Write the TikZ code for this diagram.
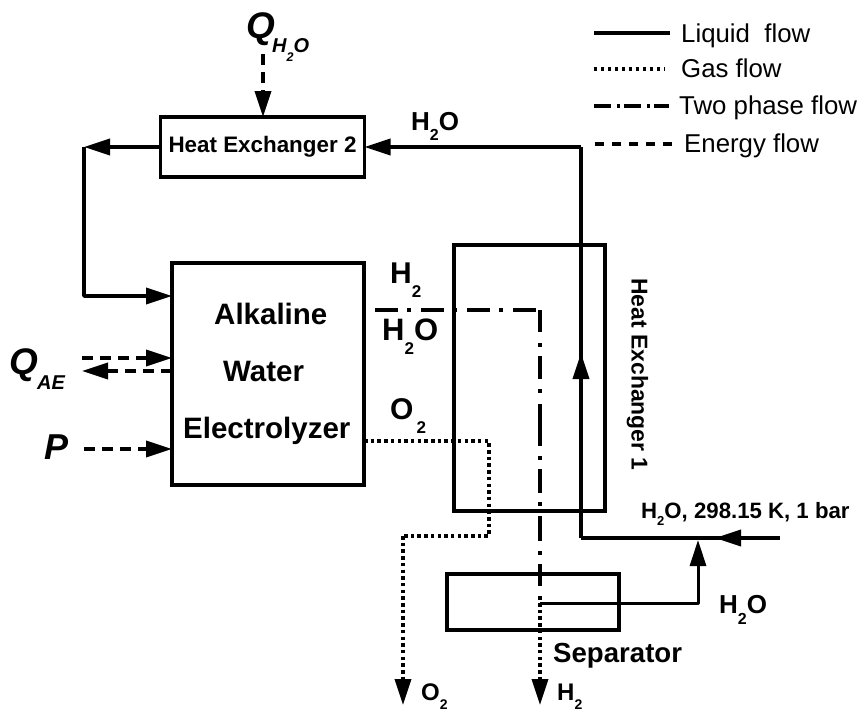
\documentclass[tikz,border=0pt]{standalone}
\usepackage{fontspec}
\setmainfont{Liberation Sans}
\usetikzlibrary{arrows.meta,calc}
\newcommand{\lowtwo}[2]{\raisebox{-#2pt}{\fontsize{#1}{#1}\selectfont 2}}
\tikzset{
  x=1pt,y=-1pt,
  boxn/.style={draw,line width=3.5pt,inner sep=0pt,outer sep=0pt,align=center,font=\bfseries},
  flow/.style={line width=3.5pt,line join=round},
  tip/.style={-{Triangle[length=26pt,width=16pt]}},
  liquid/.style={flow},
  gas/.style={flow,dash pattern=on 3.5pt off 3.2pt},
  twophase/.style={flow,dash pattern=on 23pt off 9pt on 4pt off 10pt,dash phase=35pt},
  energy/.style={flow,dash pattern=on 11pt off 7pt},
  txt/.style={inner sep=0pt,anchor=base west},
  lab/.style={txt,font=\fontsize{26}{26}\bfseries\selectfont},
  big/.style={txt,font=\fontsize{30}{30}\bfseries\selectfont},
  mid/.style={txt,font=\fontsize{29.5}{30}\bfseries\selectfont},
  leg/.style={txt,font=\fontsize{25.8}{26}\selectfont},
  sym/.style={txt,font=\fontsize{37}{37}\bfseries\itshape\selectfont},
  subs/.style={txt,font=\fontsize{20}{20}\bfseries\itshape\selectfont},
}
\begin{document}
\begin{tikzpicture}
\useasboundingbox (0,0) rectangle (861,713);
% boxes
\node[boxn,minimum width=204pt,minimum height=60pt,font=\fontsize{22.4}{23}\bfseries\selectfont] (he2) at (262.5,147) {Heat Exchanger 2};
\node[boxn,minimum width=192pt,minimum height=222pt] (ae) at (268,374) {};
\node[mid] (t1) at (214,324) {Alkaline};
\node[mid] (t2) at (223,381) {Water};
\node[mid] (t3) at (183,438) {Electrolyzer};
\node[boxn,minimum width=151pt,minimum height=266pt] (he1) at (529.5,378) {};
\node[boxn,minimum width=172pt,minimum height=56pt] (sep) at (533,602) {};
% coordinates
\coordinate (qtop) at (263,54);
\coordinate (he2in) at (he2.north -| qtop);
\coordinate (lb) at (84,147);
\coordinate (lc) at (84,296);
\coordinate (aein) at (ae.west |- lc);
\coordinate (rt) at (581,147);
\coordinate (rb) at (581,538);
\coordinate (rup) at (581,353);
\coordinate (feed) at (780,538);
\coordinate (feedtip) at (715,538);
\coordinate (sepj) at (540,603);
\coordinate (sepr) at (698,603);
\coordinate (sept) at (698,540);
\coordinate (tpa) at (ae.east |- 0,310);
\coordinate (tpb) at (540,310);
\coordinate (gh) at (540,705);
\coordinate (oa) at (ae.east |- 0,441);
\coordinate (ob) at (489,441);
\coordinate (oc) at (489,536);
\coordinate (od) at (403,536);
\coordinate (oe) at (403,705);
\coordinate (qa) at (82,358);
\coordinate (qb) at (ae.west |- qa);
\coordinate (qc) at (ae.west |- 0,371);
\coordinate (qd) at (82,371);
\coordinate (pa) at (84,449);
\coordinate (pb) at (ae.west |- pa);
% flows
\draw[energy,tip] (qtop) -- (he2in);
\draw[liquid,tip] (he2.west) -- (lb);
\draw[liquid,tip] (lb) -- (lc) -- (aein);
\draw[liquid,tip] (rt) -- (he2.east);
\draw[liquid] (rb) -- (rt);
\draw[liquid,tip] (rb) -- (rup);
\draw[liquid] (feed) -- (rb);
\draw[liquid,tip] (feed) -- (feedtip);
\draw[liquid,line width=3pt,tip] (sepj) -- (sepr) -- (sept);
\draw[twophase] (tpa) -- (tpb);
\draw[flow,dash pattern=on 22pt off 11pt on 4pt off 9pt on 23pt off 10pt on 4pt off 11pt on 42pt off 10pt on 4pt off 9pt on 24pt off 9pt on 4pt off 10pt on 25pt off 10pt on 4pt off 9pt on 22pt off 10pt on 4pt off 3pt] (tpb) -- (sepj);
\draw[gas,tip] (sepj) -- (gh);
\draw[gas] (oa) -- (ob) -- (oc) -- (od);
\draw[gas,tip] (od) -- (oe);
\draw[energy,tip] (qa) -- (qb);
\draw[energy,tip] (qc) -- (qd);
\draw[energy,tip] (pa) -- (pb);
% legend
\coordinate (l1a) at (594,33); \coordinate (l1b) at (670,33);
\coordinate (l2a) at (594,69); \coordinate (l2b) at (665,69);
\coordinate (l3a) at (594,106); \coordinate (l3b) at (669,106);
\coordinate (l4a) at (595,144); \coordinate (l4b) at (672,144);
\draw[flow,line width=4pt] (l1a) -- (l1b);
\draw[flow,line width=3.2pt,dash pattern=on 3.2pt off 3.8pt] (l2a) -- (l2b);
\draw[flow,dash pattern=on 17pt off 6pt on 3pt off 4pt] (l3a) -- (l3b);
\draw[flow,dash pattern=on 9pt off 8pt] (l4a) -- (l4b);
\node[leg] (n1) at (681,42) {Liquid\ \ flow};
\node[leg] (n2) at (681,77) {Gas flow};
\node[leg] (n3) at (679,114) {Two phase flow};
\node[leg] (n4) at (684,152) {Energy flow};
% labels
\node[sym] (q1) at (246,38) {Q};
\node[subs] (q1s) at (272,52) {H\raisebox{-9pt}{\fontsize{12.5}{12.5}\selectfont 2}O};
\node[sym] (q2) at (9,374) {Q};
\node[subs] (q2s) at (37,389) {AE};
\node[sym,font=\fontsize{36}{36}\bfseries\itshape\selectfont] (p) at (44,459) {P};
\node[lab] (w1) at (411,130) {H\lowtwo{16}{10}O};
\node[big] (h2a) at (390,283) {H\lowtwo{17}{14}};
\node[big,font=\fontsize{31}{31}\bfseries\selectfont] (w2) at (382,340) {H\lowtwo{17}{14}O};
\node[big] (o2a) at (390,419) {O\hspace{3pt}\lowtwo{17}{14}};
\node[txt,font=\fontsize{22.2}{23}\bfseries\selectfont] (feedl) at (641,518) {H\raisebox{-7pt}{\fontsize{13}{13}\selectfont 2}O, 298.15 K, 1 bar};
\node[lab] (w3) at (719,613) {H\lowtwo{16}{11}O};
\node[txt,font=\fontsize{27.6}{28}\bfseries\selectfont] (sepl) at (553,662) {Separator};
\node[txt,font=\fontsize{24}{24}\bfseries\selectfont] (o2b) at (421,700) {O\lowtwo{14}{9.5}};
\node[txt,font=\fontsize{24}{24}\bfseries\selectfont] (h2b) at (557,700) {H\lowtwo{14}{9.5}};
\node[txt,anchor=center,rotate=-90,font=\fontsize{22.9}{23}\bfseries\selectfont] (he1l) at (637.5,374.5) {Heat Exchanger 1};
\end{tikzpicture}
\end{document}
